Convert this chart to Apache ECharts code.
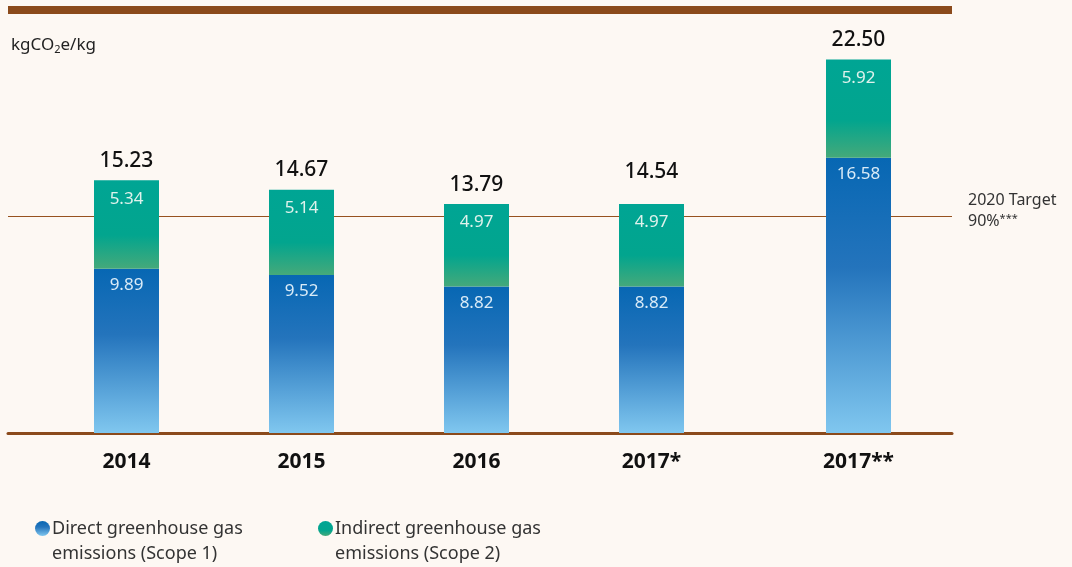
<!DOCTYPE html>
<html>
<head>
<meta charset="utf-8">
<script src="https://cdn.jsdelivr.net/npm/echarts@6/dist/echarts.min.js"></script>
<style>
  html, body { margin: 0; padding: 0; background: #fdf8f3; }
  #chart { width: 1072px; height: 567px; }
</style>
</head>
<body>
<div id="chart"></div>
<script>
// Emission intensity per year, split into Scope 1 and Scope 2
const categories = ['2014', '2015', '2016', '2017*', '2017**'];
const direct = [9.89, 9.52, 8.82, 8.82, 16.58];
const indirect = [5.34, 5.14, 4.97, 4.97, 5.92];
const totals = [15.23, 14.67, 13.79, 14.54, 22.50];
const target = 13.05;
const seriesNames = ['Direct greenhouse gas\nemissions (Scope 1)', 'Indirect greenhouse gas\nemissions (Scope 2)'];

const BROWN = '#8b4a1b';
const FONT = 'Noto Sans';
const Y_MAX = 25;

const directFill = {
  type: 'linear', x: 0, y: 0, x2: 0, y2: 1,
  colorStops: [
    { offset: 0, color: '#0767b3' },
    { offset: 0.4, color: '#2474bc' },
    { offset: 1, color: '#80c7ef' }
  ]
};
const indirectFill = {
  type: 'linear', x: 0, y: 0, x2: 0, y2: 1,
  colorStops: [
    { offset: 0, color: '#00a594' },
    { offset: 0.62, color: '#02a58e' },
    { offset: 1, color: '#45a97a' }
  ]
};

// The first four years share one evenly spaced axis; the last column sits a bit further right.
const groups = [
  { from: 0, to: 4 },
  { from: 4, to: 5 }
];

const grids = [
  { left: 39, width: 700, top: 18, height: 415 },
  { left: 771, width: 175, top: 18, height: 415 },
  { left: 8, width: 944, top: 18, height: 415 }
];

const xAxes = groups.map((g, i) => ({
  type: 'category',
  gridIndex: i,
  data: categories.slice(g.from, g.to),
  axisLine: { show: false },
  axisTick: { show: false },
  axisLabel: {
    margin: 19, fontSize: 21, fontWeight: 'bold', color: '#111', fontFamily: FONT
  }
}));
xAxes.push({
  type: 'category', gridIndex: 2, data: [''],
  axisLine: { show: true, lineStyle: { color: BROWN, width: 3 } },
  axisTick: { show: false }, axisLabel: { show: false }
});

const yAxes = [0, 1, 2].map(i => ({
  type: 'value', gridIndex: i, min: 0, max: Y_MAX,
  show: false, splitLine: { show: false }
}));

const series = [];
groups.forEach((g, i) => {
  const common = {
    type: 'bar', xAxisIndex: i, yAxisIndex: i,
    barWidth: 65, barGap: '-100%'
  };
  series.push(Object.assign({}, common, {
    name: seriesNames[0], stack: 'g' + i, z: 3,
    data: direct.slice(g.from, g.to),
    itemStyle: { color: directFill },
    label: {
      show: true, position: 'insideTop', distance: 8,
      color: '#d9ebf7', fontSize: 17, fontFamily: FONT,
      formatter: p => p.value.toFixed(2)
    }
  }));
  series.push(Object.assign({}, common, {
    name: seriesNames[1], stack: 'g' + i, z: 3,
    data: indirect.slice(g.from, g.to),
    itemStyle: { color: indirectFill },
    label: {
      show: true, position: 'insideTop', distance: 10,
      color: '#dff2ec', fontSize: 17, fontFamily: FONT,
      formatter: p => p.value.toFixed(2)
    }
  }));
  // transparent column carrying the total label
  series.push(Object.assign({}, common, {
    name: 'total', z: 2, silent: true,
    data: totals.slice(g.from, g.to),
    itemStyle: { color: 'rgba(0,0,0,0)' },
    label: {
      show: true, position: 'top', distance: 9,
      color: '#111', fontSize: 21, fontWeight: 500, fontFamily: FONT,
      formatter: p => p.value.toFixed(2)
    }
  }));
});

// target reference line across the full width
series.push({
  type: 'line', xAxisIndex: 2, yAxisIndex: 2, z: 1, silent: true,
  data: ['-'],
  color: BROWN,
  markLine: {
    z: 1, silent: true, symbol: 'none',
    lineStyle: { color: '#97521f', width: 1.2, type: 'solid', opacity: 1 },
    emphasis: { disabled: true },
    label: {
      show: true, position: 'end', distance: 16,
      formatter: '{t|2020 Target}\n{t|90%}{s|***}',
      padding: [0, 0, 10, 0],
      rich: {
        t: { fontSize: 16, color: '#333', fontFamily: FONT, lineHeight: 21 },
        s: { fontSize: 11, color: '#333', fontFamily: FONT, lineHeight: 21, padding: [0, 0, 6, 0] }
      }
    },
    data: [{ yAxis: target }]
  }
});

const legendText = {
  fontSize: 18, color: '#333', fontFamily: FONT, lineHeight: 25,
  padding: [0, 0, 0, -3]
};
// a leading blank line keeps the marker level with the first text line
const legendLabel = name => ' \n' + name;

const option = {
  backgroundColor: '#fdf8f3',
  animation: false,
  title: {
    left: 6, top: 30,
    text: '{a|kgCO}{s|2}{a|e/kg}',
    textStyle: {
      rich: {
        a: { fontSize: 17, fontWeight: 'normal', color: '#222', fontFamily: FONT },
        s: { fontSize: 11, fontWeight: 'normal', color: '#222', fontFamily: FONT, padding: [9, 0, 0, 0] }
      }
    }
  },
  legend: [
    { data: [seriesNames[0]], left: 30, top: 486, icon: 'circle', itemWidth: 15, itemHeight: 15, textStyle: legendText, formatter: legendLabel, selectedMode: false },
    { data: [seriesNames[1]], left: 313, top: 486, icon: 'circle', itemWidth: 15, itemHeight: 15, textStyle: legendText, formatter: legendLabel, selectedMode: false }
  ],
  grid: grids,
  xAxis: xAxes,
  yAxis: yAxes,
  series: series,
  graphic: [
    { type: 'rect', left: 8, top: 6, shape: { width: 944, height: 8 }, style: { fill: BROWN } }
  ]
};

const chart = echarts.init(document.getElementById('chart'), null, { renderer: 'canvas' });
chart.setOption(option);
</script>
</body>
</html>
